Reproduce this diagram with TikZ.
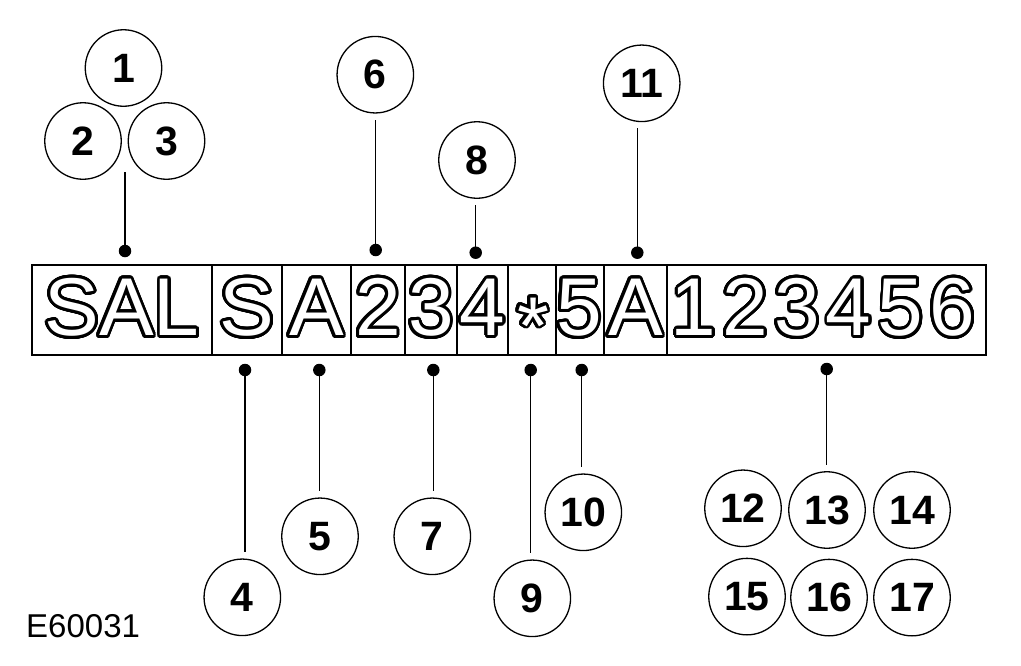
\documentclass[tikz,border=0pt]{standalone}
\usepackage{fontspec}
\setmainfont{Liberation Sans}
\usepackage{contour}
\contourlength{2.8pt}
\contournumber{40}
\usetikzlibrary{calc}
\newcommand\outl[1]{\contour{black}{\color{white}#1}}
\begin{document}
\begin{tikzpicture}[x=1pt,y=-1pt,
  callout/.style={circle,draw,line width=1.3pt,minimum size=76.5pt,inner sep=0pt,font=\bfseries\fontsize{41}{41}\selectfont},
  pin/.style={circle,fill=black,minimum size=12.5pt,inner sep=0pt},
  lead/.style={line width=1.4pt},
  cell/.style={draw,line width=1.1pt,minimum height=90pt,inner sep=0pt},
  glyphs/.style={anchor=base,inner sep=0pt,font=\fontsize{82}{82}\selectfont}]
\useasboundingbox (0,0) rectangle (1021,665);

% cells
\node[cell,minimum width=180pt] (bSAL) at (122,310) {};
\node[cell,minimum width=70pt] (bS) at (247,310) {};
\node[cell,minimum width=69pt] (bA) at (316.5,310) {};
\node[cell,minimum width=54pt] (b2) at (378,310) {};
\node[cell,minimum width=52pt] (b3) at (431,310) {};
\node[cell,minimum width=51pt] (b4) at (482.5,310) {};
\node[cell,minimum width=48pt] (bst) at (532,310) {};
\node[cell,minimum width=48pt] (b5) at (580,310) {};
\node[cell,minimum width=63pt] (bA2) at (635.5,310) {};
\node[cell,minimum width=319pt] (bnum) at (826.5,310) {};

% outlined characters
\node[glyphs] (tSAL) at (122,335.5) {\outl{SAL}};
\node[glyphs] (tS) at (247,335.5) {\outl{S}};
\node[glyphs] (tA) at (316.5,335.5) {\outl{A}};
\node[glyphs] (t2) at (378,335.5) {\outl{2}};
\node[glyphs] (t3) at (431,335.5) {\outl{3}};
\node[glyphs] (t4) at (482.5,335.5) {\outl{4}};
\node[glyphs] (tst) at (533,354) {\outl{*}};
\node[glyphs] (t5) at (579,335.5) {\outl{5}};
\node[glyphs] (tA2) at (635.5,335.5) {\outl{A}};
\node[glyphs] (tnum) at (823,335.5) {\outl{1\kern6.2pt 2\kern6.2pt 3\kern6.2pt 4\kern6.2pt 5\kern6.2pt 6}};

% callout circles
\node[callout] (c1) at (123.5,68) {1};
\node[callout] (c2) at (83,141) {2};
\node[callout] (c3) at (166.5,141) {3};
\node[callout] (c6) at (375.3,74.7) {6};
\node[callout] (c8) at (477,160) {8};
\node[callout] (c11) at (641.7,83.3) {11};
\node[callout] (c4) at (242.3,597.3) {4};
\node[callout] (c5) at (320,536.3) {5};
\node[callout] (c7) at (432.3,536.3) {7};
\node[callout] (c9) at (532.3,598.3) {9};
\node[callout] (c10) at (583.3,512.3) {10};
\node[callout] (c12) at (743,508.3) {12};
\node[callout] (c13) at (827,510) {13};
\node[callout] (c14) at (912,510) {14};
\node[callout] (c15) at (747,596.6) {15};
\node[callout] (c16) at (829,597.6) {16};
\node[callout] (c17) at (912,597.6) {17};

% pins
\node[pin] (dSAL) at (125,251) {};
\node[pin] (d6) at (375.7,250) {};
\node[pin] (d8) at (475.7,252.7) {};
\node[pin] (d11) at (637.3,252.7) {};
\node[pin] (d4) at (245,370) {};
\node[pin] (d5) at (319.3,370) {};
\node[pin] (d7) at (433.3,370) {};
\node[pin] (d9) at (530.7,370) {};
\node[pin] (d10) at (581.7,370) {};
\node[pin] (d13) at (826.7,369) {};

% leader lines
\coordinate (e1) at (125,172);
\draw[lead] (dSAL.center) -- (e1);
\draw[lead] (d6.center) -- ($(d6 |- c6.south)+(0,6)$);
\draw[lead] (d8.center) -- ($(d8 |- c8.south)+(0,6)$);
\draw[lead] (d11.center) -- ($(d11 |- c11.south)+(0,6)$);
\draw[lead] (d4.center) -- ($(d4 |- c4.north)+(0,-6)$);
\draw[lead] (d5.center) -- ($(d5 |- c5.north)+(0,-6)$);
\draw[lead] (d7.center) -- ($(d7 |- c7.north)+(0,-6)$);
\draw[lead] (d9.center) -- ($(d9 |- c9.north)+(0,-6)$);
\draw[lead] (d10.center) -- ($(d10 |- c10.north)+(0,-6)$);
\draw[lead] (d13.center) -- ($(d13 |- c13.north)+(0,-6)$);

% figure code
\node[anchor=base west,inner sep=0pt,font=\fontsize{33}{33}\selectfont] (code) at (26,637) {E60031};
\end{tikzpicture}
\end{document}
